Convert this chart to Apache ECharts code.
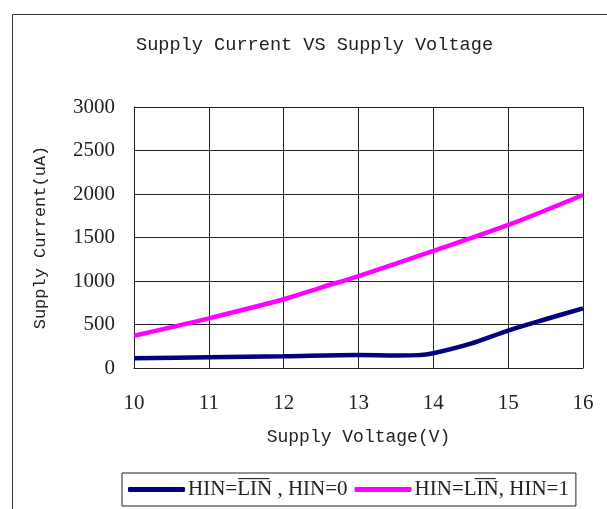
<!DOCTYPE html>
<html>
<head>
<meta charset="utf-8">
<script src="https://cdn.jsdelivr.net/npm/echarts@6/dist/echarts.min.js"></script>
<style>
  html, body { margin: 0; padding: 0; background: #fff; }
  #chart { width: 607px; height: 509px; }
</style>
</head>
<body>
<div id="chart"></div>
<script>
const xTicks = [10, 11, 12, 13, 14, 15, 16];
const yTicks = [0, 500, 1000, 1500, 2000, 2500, 3000];

// HIN=LIN(bar), HIN=0
const lowVolt = [10, 11, 12, 13, 13.5, 13.8, 14, 14.5, 15, 15.5, 16];
const lowCurr = [111, 123, 135, 150, 145, 148, 170, 280, 430, 560, 686];

// HIN=L IN(bar), HIN=1
const highVolt = [10, 11, 12, 12.5, 13, 14, 15, 16];
const highCurr = [371, 571, 790, 925, 1057, 1345, 1644, 1989];

const name1 = 'HIN=L\u0305I\u0305N\u0305 , HIN=0';
const name2 = 'HIN=LI\u0305N\u0305, HIN=1';

const serif = '"Liberation Serif", "Times New Roman", serif';
const mono = '"Liberation Mono", "DejaVu Sans Mono", monospace';

const chart = echarts.init(document.getElementById('chart'));

const option = {
  backgroundColor: '#fff',
  animation: false,
  title: {
    text: 'Supply Current VS Supply Voltage',
    left: 131,
    top: 31,
    textStyle: { fontFamily: mono, fontSize: 18.6, fontWeight: 'normal', color: '#222' },
  },
  graphic: [
    {
      type: 'polyline',
      shape: { points: [[12.5, 509], [12.5, 14.5], [607, 14.5]] },
      style: { stroke: '#333', lineWidth: 1, fill: null },
    },
  ],
  legend: {
    left: 122,
    top: 473,
    orient: 'horizontal',
    padding: [6, 7, 6, 6],
    itemGap: 7,
    itemWidth: 57,
    itemHeight: 5,
    borderColor: '#222',
    borderWidth: 1,
    icon: 'roundRect',
    textStyle: { fontFamily: serif, fontSize: 21, color: '#222', padding: [0, 0, 0, -2] },
    data: [name1, name2],
  },
  grid: { left: 134, top: 107, right: 24, bottom: 141 },
  xAxis: {
    type: 'value',
    min: 10,
    max: 16,
    interval: 1,
    name: 'Supply Voltage(V)',
    nameLocation: 'middle',
    nameGap: 60,
    nameTextStyle: { fontFamily: mono, fontSize: 18, color: '#222' },
    axisLine: { lineStyle: { color: '#222' } },
    axisTick: { show: false },
    axisLabel: {
      fontFamily: serif,
      fontSize: 21,
      color: '#222',
      margin: 25,
      formatter: (v) => (xTicks.includes(v) ? String(v) : ''),
    },
    splitLine: { show: true, lineStyle: { color: '#222', width: 1 } },
  },
  yAxis: {
    type: 'value',
    min: 0,
    max: 3000,
    interval: 500,
    name: 'Supply Current(uA)',
    nameLocation: 'middle',
    nameGap: 85,
    nameTextStyle: { fontFamily: mono, fontSize: 17, color: '#222' },
    axisLine: { show: true, lineStyle: { color: '#222' } },
    axisTick: { show: false },
    axisLabel: {
      fontFamily: serif,
      fontSize: 21,
      color: '#222',
      margin: 19,
      formatter: (v) => (yTicks.includes(v) ? String(v) : ''),
    },
    splitLine: { show: true, lineStyle: { color: '#222', width: 1 } },
  },
  series: [
    {
      name: name1,
      type: 'line',
      data: lowVolt.map((v, i) => [v, lowCurr[i]]),
      smooth: 0.3,
      showSymbol: false,
      lineStyle: { color: '#000080', width: 4.5 },
      itemStyle: { color: '#000080' },
    },
    {
      name: name2,
      type: 'line',
      data: highVolt.map((v, i) => [v, highCurr[i]]),
      smooth: 0.3,
      showSymbol: false,
      lineStyle: { color: '#ff00ff', width: 4.5 },
      itemStyle: { color: '#ff00ff' },
    },
  ],
};

chart.setOption(option);
</script>
</body>
</html>
